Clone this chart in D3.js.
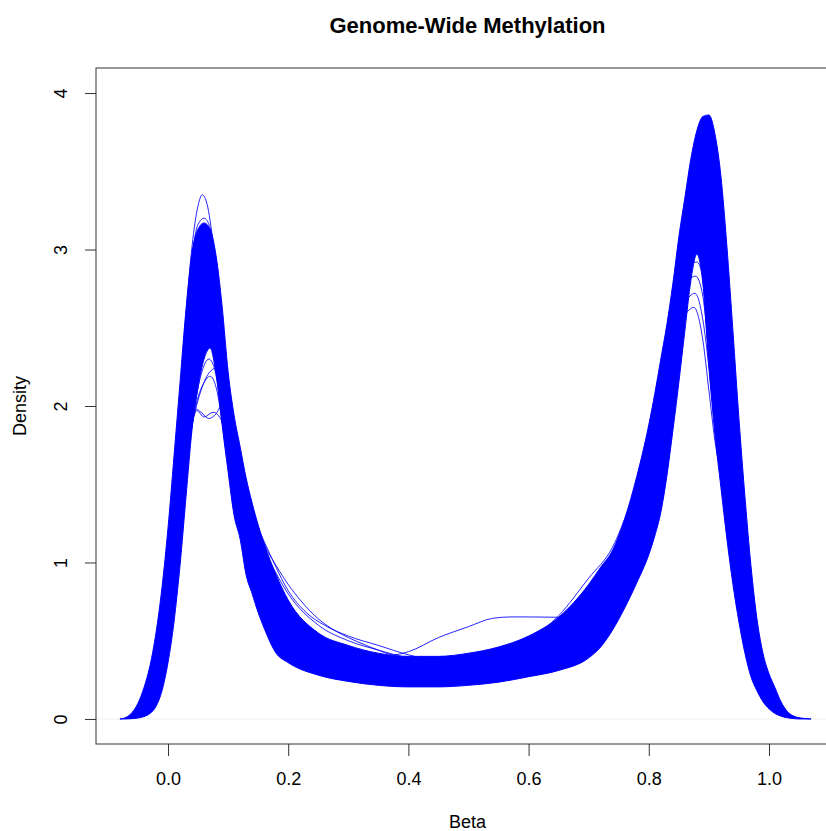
<!DOCTYPE html>
<html>
<head>
<meta charset="utf-8">
<script src="https://cdn.jsdelivr.net/npm/d3@7"></script>
<style>
  body { margin: 0; background: #fff; }
  text { font-family: "Liberation Sans", Arial, Helvetica, sans-serif; fill: #000; }
</style>
</head>
<body>
<div class="graph"></div>
<script>
/*---------- DATA ----------*/

const betaGrid = [-0.08,-0.07,-0.06,-0.05,-0.04,-0.03,-0.02,-0.01,0,0.01,
  0.02,0.03,0.04,0.05,0.06,0.07,0.08,0.09,0.10,0.11,
  0.12,0.13,0.14,0.15,0.16,0.18,0.20,0.25,0.30,0.35,
  0.40,0.45,0.50,0.55,0.60,0.65,0.70,0.72,0.74,0.76,
  0.78,0.80,0.81,0.82,0.83,0.84,0.85,0.86,0.87,0.88,
  0.89,0.90,0.91,0.92,0.93,0.94,0.95,0.96,0.97,0.98,
  0.99,1.00,1.01,1.02,1.03,1.04,1.05,1.06,1.07];

// highest density of the sample curves at each beta
const bandUpper = [0,0.01,0.04,0.10,0.20,0.34,0.55,0.84,1.22,1.68,
  2.15,2.62,2.98,3.13,3.17,3.13,2.96,2.64,2.22,1.94,
  1.74,1.54,1.38,1.24,1.12,0.92,0.76,0.55,0.47,0.42,
  0.40,0.40,0.42,0.46,0.53,0.65,0.86,0.97,1.08,1.28,
  1.55,1.88,2.08,2.30,2.52,2.78,3.08,3.33,3.58,3.76,
  3.85,3.86,3.74,3.47,3.02,2.48,1.92,1.42,0.98,0.64,
  0.42,0.29,0.20,0.11,0.05,0.02,0.008,0.003,0];

// lowest density of the sample curves at each beta
const bandLower = [0,0,0.002,0.006,0.015,0.035,0.08,0.18,0.36,0.62,
  0.98,1.42,1.85,2.12,2.30,2.37,2.20,1.88,1.58,1.30,
  1.15,0.92,0.80,0.68,0.58,0.42,0.36,0.28,0.24,0.215,
  0.205,0.205,0.215,0.235,0.27,0.31,0.39,0.46,0.57,0.71,
  0.87,1.05,1.17,1.32,1.55,1.84,2.15,2.48,2.80,2.97,
  2.78,2.25,1.82,1.48,1.15,0.86,0.62,0.42,0.27,0.18,
  0.11,0.065,0.035,0.018,0.008,0.003,0,0,0];

// single samples that stand out of the band: [beta, density]
const tallLeftPeak = [[0.02,2.0],[0.03,2.58],[0.04,3.02],[0.05,3.28],[0.057,3.35],[0.065,3.29],
  [0.075,3.05],[0.085,2.75],[0.10,2.15],[0.12,1.6]];
const highLeftPeak = [[0.03,2.5],[0.04,2.95],[0.05,3.16],[0.06,3.2],[0.07,3.14],[0.08,2.9]];
const lowLeftPeakA = [[0.02,1.2],[0.03,1.55],[0.04,1.88],[0.047,1.98],[0.055,1.96],[0.068,1.92],
  [0.08,1.95],[0.089,2.0],[0.10,1.84],[0.11,1.55],[0.125,1.2],[0.14,0.98]];
const lowLeftPeakB = [[0.02,1.15],[0.03,1.5],[0.04,1.88],[0.048,1.97],[0.06,1.93],[0.075,1.96],
  [0.09,1.9],[0.10,1.74],[0.115,1.4],[0.13,1.1]];
const lowLeftPeakC = [[0.03,1.6],[0.045,1.98],[0.06,2.15],[0.07,2.19],[0.08,2.12],[0.09,1.9],
  [0.10,1.62],[0.115,1.32],[0.13,1.12]];
const lowLeftPeakD = [[0.035,1.8],[0.055,2.1],[0.07,2.22],[0.085,2.25],[0.095,2.1],[0.105,1.8],
  [0.12,1.35]];
const lowLeftPeakE = [[0.035,1.75],[0.055,2.2],[0.068,2.3],[0.08,2.2],[0.09,1.95],[0.10,1.68],
  [0.11,1.45]];
const shoulderA = [[0.14,1.36],[0.16,1.12],[0.18,0.98],[0.20,0.86],[0.22,0.76],[0.25,0.64],[0.28,0.56],
  [0.30,0.52],[0.33,0.47],[0.35,0.44],[0.375,0.41],[0.40,0.43],[0.45,0.52],[0.50,0.59],
  [0.54,0.643],[0.57,0.652],[0.60,0.652],[0.65,0.65],[0.70,0.82],[0.74,0.95]];
const shoulderB = [[0.15,1.22],[0.17,1.05],[0.20,0.82],[0.23,0.68],[0.26,0.6],[0.30,0.53],
  [0.35,0.47],[0.40,0.41],[0.45,0.37],[0.50,0.35]];
const shoulderC = [[0.16,1.08],[0.18,0.93],[0.20,0.8],[0.25,0.6],[0.30,0.5],[0.35,0.44],
  [0.40,0.39],[0.45,0.36]];
const rightShoulder = [[0.60,0.5],[0.65,0.66],[0.70,0.9],[0.74,1.1],[0.77,1.38],[0.80,1.7]];
const lowRightPeakA = [[0.78,1.45],[0.80,1.8],[0.82,2.12],[0.84,2.4],[0.86,2.58],[0.875,2.63],
  [0.89,2.42],[0.90,2.1],[0.91,1.78],[0.925,1.5]];
const lowRightPeakB = [[0.80,1.82],[0.82,2.2],[0.84,2.48],[0.86,2.66],[0.877,2.72],[0.89,2.55],
  [0.90,2.25],[0.91,1.9],[0.925,1.55]];
const lowRightPeakC = [[0.81,2.02],[0.83,2.45],[0.85,2.7],[0.865,2.8],[0.878,2.83],[0.89,2.7],
  [0.90,2.35],[0.915,1.85]];
const lowRightPeakD = [[0.82,2.28],[0.84,2.62],[0.86,2.86],[0.88,2.92],[0.89,2.82],[0.90,2.5],
  [0.915,1.95]];

const outliers = [tallLeftPeak, highLeftPeak, lowLeftPeakA, lowLeftPeakB, lowLeftPeakC,
  lowLeftPeakD, lowLeftPeakE, shoulderA, shoulderB, shoulderC, rightShoulder,
  lowRightPeakA, lowRightPeakB, lowRightPeakC, lowRightPeakD];

const xTicks = [0, 0.2, 0.4, 0.6, 0.8, 1.0];
const yTicks = [0, 1, 2, 3, 4];
const xLim = [-0.1198, 1.1165];
const yLim = [-0.16, 4.16];

/*---------- D3 STUFF ----------*/

const SIZE = {X: 826, Y: 831};
const BOX = {LEFT: 96, RIGHT: 839, TOP: 68, BOTTOM: 744};
const BLUE = "#0000ff";

const svg = d3.select(".graph").append("svg")
    .attr("width", SIZE.X)
    .attr("height", SIZE.Y);

const x = d3.scaleLinear().domain(xLim).range([BOX.LEFT, BOX.RIGHT]);
const y = d3.scaleLinear().domain(yLim).range([BOX.BOTTOM, BOX.TOP]);

// faint zero line
svg.append("line")
    .attr("x1", BOX.LEFT).attr("x2", BOX.RIGHT)
    .attr("y1", y(0)).attr("y2", y(0))
    .attr("stroke", "#efefef")
    .attr("stroke-width", 1);

// band covered by all the sample curves
const band = d3.area()
    .curve(d3.curveMonotoneX)
    .x(d => x(d))
    .y0((d, i) => y(bandLower[i]))
    .y1((d, i) => y(bandUpper[i]));

svg.append("path")
    .datum(betaGrid)
    .attr("fill", BLUE)
    .attr("d", band);

const edge = d3.line()
    .curve(d3.curveMonotoneX)
    .x(d => x(d[0]))
    .y(d => y(d[1]));

[bandUpper, bandLower].forEach(arr => {
    svg.append("path")
        .datum(betaGrid.map((b, i) => [b, arr[i]]))
        .attr("fill", "none")
        .attr("stroke", BLUE)
        .attr("stroke-width", 1)
        .attr("d", edge);
});

// single curves outside the band
svg.selectAll("path.outlier")
    .data(outliers)
    .enter()
    .append("path")
        .attr("class", "outlier")
        .attr("fill", "none")
        .attr("stroke", BLUE)
        .attr("stroke-opacity", 0.85)
        .attr("stroke-width", 1)
        .attr("d", edge);

// plot box
svg.append("rect")
    .attr("x", BOX.LEFT).attr("y", BOX.TOP)
    .attr("width", BOX.RIGHT - BOX.LEFT)
    .attr("height", BOX.BOTTOM - BOX.TOP)
    .attr("fill", "none")
    .attr("stroke", "#333")
    .attr("stroke-width", 1);

// axes
const xAxis = svg.append("g")
    .attr("transform", `translate(0, ${BOX.BOTTOM})`)
    .call(d3.axisBottom(x).tickValues(xTicks).tickFormat(d3.format(".1f"))
        .tickSize(12).tickPadding(16));

const yAxis = svg.append("g")
    .attr("transform", `translate(${BOX.LEFT}, 0)`)
    .call(d3.axisLeft(y).tickValues(yTicks).tickFormat(d3.format("d")).tickSize(11));

[xAxis, yAxis].forEach(a => {
    a.select(".domain").remove();
    a.selectAll(".tick line").attr("stroke", "#333");
    a.selectAll("text")
        .attr("font-size", 18)
        .attr("font-family", "'Liberation Sans', Arial, sans-serif")
        .attr("fill", "#000");
});

yAxis.selectAll("text")
    .attr("x", null)
    .attr("dy", null)
    .attr("text-anchor", "middle")
    .attr("transform", "translate(-29,0) rotate(-90)");

// titles
svg.append("text")
    .attr("x", (BOX.LEFT + BOX.RIGHT) / 2)
    .attr("y", 33)
    .attr("text-anchor", "middle")
    .attr("font-size", 22)
    .attr("font-weight", "bold")
    .text("Genome-Wide Methylation");

svg.append("text")
    .attr("x", (BOX.LEFT + BOX.RIGHT) / 2)
    .attr("y", 828)
    .attr("text-anchor", "middle")
    .attr("font-size", 18)
    .text("Beta");

svg.append("text")
    .attr("transform", `translate(26, ${(BOX.TOP + BOX.BOTTOM) / 2}) rotate(-90)`)
    .attr("text-anchor", "middle")
    .attr("font-size", 18)
    .text("Density");
</script>
</body>
</html>
